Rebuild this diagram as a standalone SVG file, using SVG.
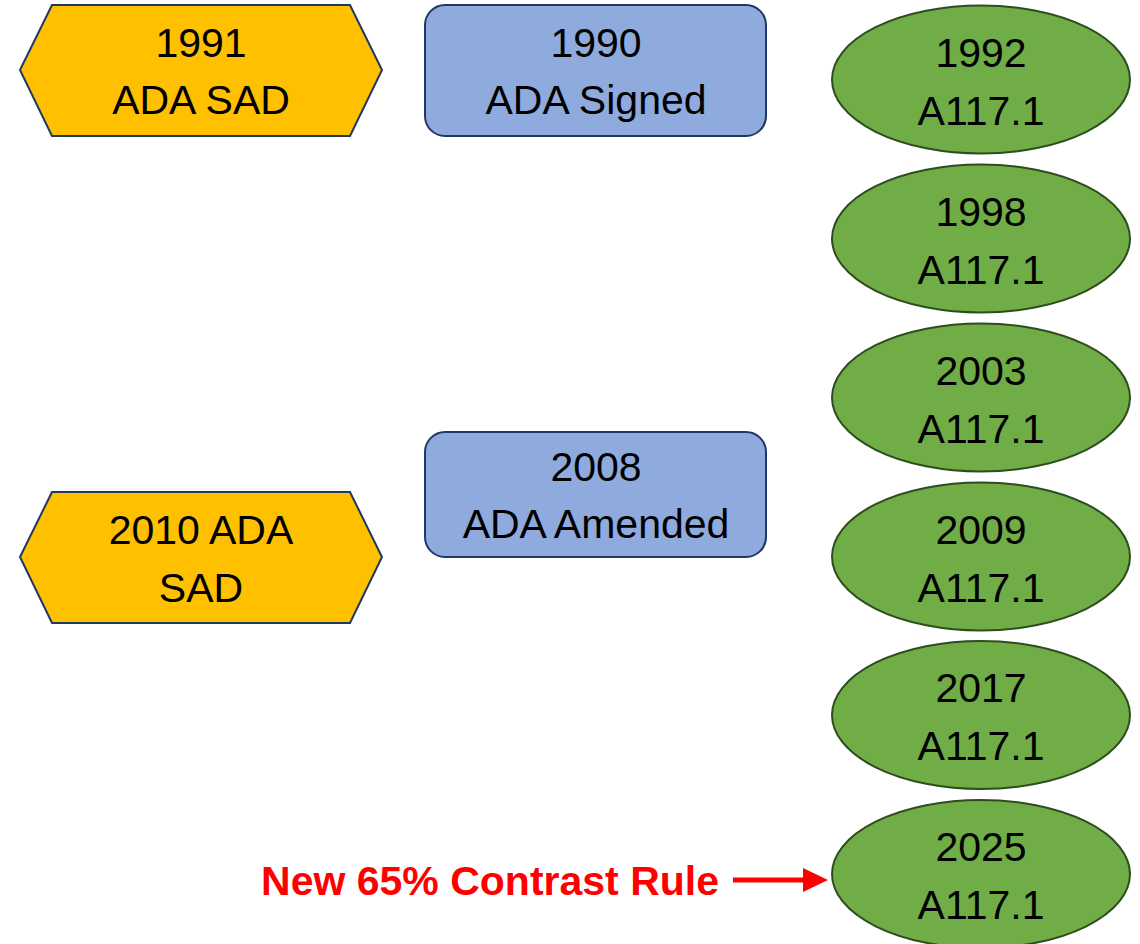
<svg xmlns="http://www.w3.org/2000/svg" width="1140" height="944" viewBox="0 0 1140 944">
<style>
.t{font-family:"Liberation Sans",Arial,sans-serif;font-size:41px;fill:#000;text-anchor:middle}
.hex{fill:#FFC000;stroke:#1F3864;stroke-width:2}
.box{fill:#8FAADC;stroke:#1F3864;stroke-width:2}
.ell{fill:#70AD47;stroke:#2E4D1E;stroke-width:2}
.red{font-family:"Liberation Sans",Arial,sans-serif;font-size:41px;font-weight:bold;fill:#FF0000;text-anchor:end}
</style>
<rect width="1140" height="944" fill="#fff"/>
<g id="n1991"><polygon class="hex" points="20,70 52,5 350,5 382,70 350,136 52,136"/><text class="t" x="201" y="57">1991</text><text class="t" x="201" y="114">ADA SAD</text></g>
<g id="n2010"><polygon class="hex" points="20,557 52,492 350,492 382,557 350,623 52,623"/><text class="t" x="201" y="544">2010 ADA</text><text class="t" x="201" y="602">SAD</text></g>
<g id="n1990"><rect class="box" x="425" y="5" width="341" height="131" rx="20"/><text class="t" x="596" y="57">1990</text><text class="t" x="596" y="114">ADA Signed</text></g>
<g id="n2008"><rect class="box" x="425" y="432" width="341" height="125" rx="20"/><text class="t" x="596" y="481">2008</text><text class="t" x="596" y="538">ADA Amended</text></g>
<g id="n1992"><ellipse class="ell" cx="981" cy="79.5" rx="149" ry="74"/><text class="t" x="981" y="67">1992</text><text class="t" x="981" y="125">A117.1</text></g>
<g id="n1998"><ellipse class="ell" cx="981" cy="238.5" rx="149" ry="74"/><text class="t" x="981" y="226">1998</text><text class="t" x="981" y="284">A117.1</text></g>
<g id="n2003"><ellipse class="ell" cx="981" cy="397.5" rx="149" ry="74"/><text class="t" x="981" y="385">2003</text><text class="t" x="981" y="443">A117.1</text></g>
<g id="n2009"><ellipse class="ell" cx="981" cy="556.5" rx="149" ry="74"/><text class="t" x="981" y="544">2009</text><text class="t" x="981" y="602">A117.1</text></g>
<g id="n2017"><ellipse class="ell" cx="981" cy="715" rx="149" ry="74"/><text class="t" x="981" y="702">2017</text><text class="t" x="981" y="760">A117.1</text></g>
<g id="n2025"><ellipse class="ell" cx="981" cy="874" rx="149" ry="74"/><text class="t" x="981" y="861">2025</text><text class="t" x="981" y="919">A117.1</text></g>
<g id="label"><text class="red" x="719" y="895">New 65% Contrast Rule</text></g>
<g id="connectors"><line x1="733" y1="880" x2="806" y2="880" stroke="#FF0000" stroke-width="5"/><polygon points="803,868 828,880 803,892" fill="#FF0000"/></g>
</svg>
